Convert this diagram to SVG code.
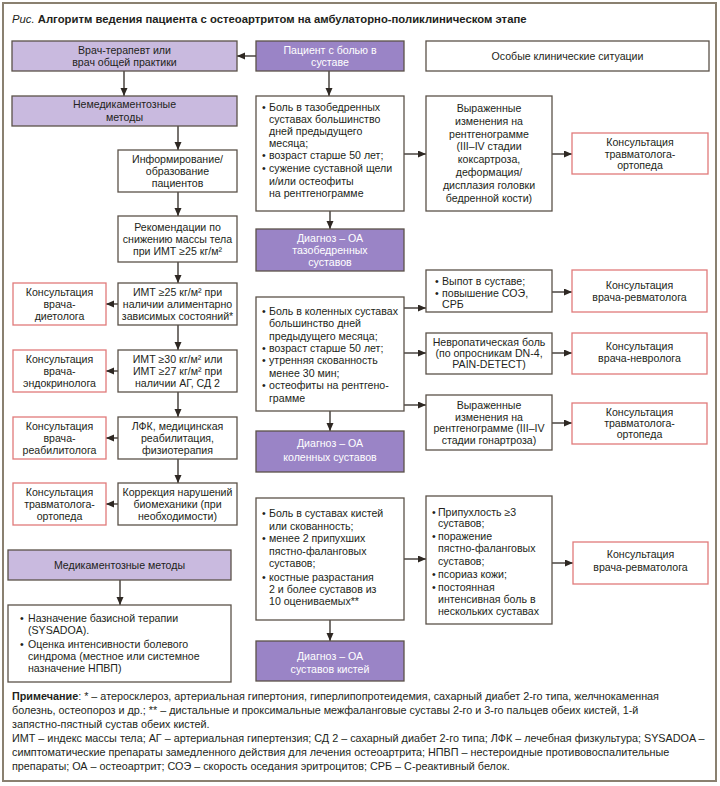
<svg xmlns="http://www.w3.org/2000/svg" width="720" height="786" viewBox="0 0 720 786">
<defs>
<marker id="ah" markerUnits="userSpaceOnUse" markerWidth="9" markerHeight="8" refX="8" refY="3.5" orient="auto"><path d="M0,0 L8,3.5 L0,7 z" fill="#2e2823"/></marker>
<style>
text{font-family:"Liberation Sans","Noto Sans",Arial,sans-serif;font-size:10.6px;fill:#231f20}
.c{text-anchor:middle}
.w{fill:#ffffff}
.b{fill:#fff;stroke:#5b5249;stroke-width:1.3}
.r{fill:#fff;stroke:#e07a7a;stroke-width:1.3}
.l{fill:#c9badf;stroke:#5b5249;stroke-width:1.3}
.d{fill:#9a84c6;stroke:#5b5249;stroke-width:1.3}
.a{fill:none;stroke:#2e2823;stroke-width:1.3;marker-end:url(#ah)}
.n{font-size:10.8px}
</style>
</defs>
<rect x="0" y="0" width="720" height="786" fill="#fff"/>
<rect x="3" y="3" width="713" height="778" fill="none" stroke="#8a8070" stroke-width="2"/>
<text x="12" y="23" style="font-size:11.3px"><tspan font-style="italic">Рис.</tspan> <tspan font-weight="bold">Алгоритм ведения пациента с остеоартритом на амбулаторно-поликлиническом этапе</tspan></text>

<g id="connectors">
<path class="a" d="M256,56 H237"/>
<path class="a" d="M124,71 V96"/>
<path class="a" d="M329,71 V96"/>
<path class="a" d="M178,126 V150"/>
<path class="a" d="M178,192 V216"/>
<path class="a" d="M178,262 V283"/>
<path class="a" d="M178,325 V350"/>
<path class="a" d="M178,392 V417"/>
<path class="a" d="M178,459 V483"/>
<path class="a" d="M118,304 H106"/>
<path class="a" d="M118,371 H106"/>
<path class="a" d="M118,438 H106"/>
<path class="a" d="M118,504 H106"/>
<path class="a" d="M404,154 H426"/>
<path class="a" d="M552,154 H572"/>
<path class="a" d="M330,211 V229"/>
<path class="a" d="M404,308 H426"/>
<path class="a" d="M404,353 H426"/>
<path class="a" d="M404,405 H426"/>
<path class="a" d="M552,292 H572"/>
<path class="a" d="M552,353 H572"/>
<path class="a" d="M552,423 H572"/>
<path class="a" d="M330,411 V431"/>
<path class="a" d="M404,559 H426"/>
<path class="a" d="M552,563 H573"/>
<path class="a" d="M330,620 V641"/>
<path class="a" d="M120,580 V605"/>
</g>

<g id="doctor"><rect class="l" x="12" y="41" width="225" height="30"/>
<text class="c" x="124.5" y="54">Врач-терапевт или</text><text class="c" x="124.5" y="66">врач общей практики</text></g>
<g id="patient"><rect class="d" x="256" y="41" width="148" height="30"/>
<text class="c w" x="330" y="54">Пациент с болью в</text><text class="c w" x="330" y="66">суставе</text></g>
<g id="special"><rect class="b" x="426" y="41" width="283" height="30"/>
<text class="c" x="567.5" y="60">Особые клинические ситуации</text></g>
<g id="nondrug"><rect class="l" x="12" y="96" width="225" height="30"/>
<text class="c" x="124.5" y="108">Немедикаментозные</text><text class="c" x="124.5" y="121">методы</text></g>

<g id="info"><rect class="b" x="118" y="150" width="119" height="42"/>
<text class="c" x="177.5" y="163">Информирование/</text><text class="c" x="177.5" y="175">образование</text><text class="c" x="177.5" y="187">пациентов</text></g>
<g id="weight"><rect class="b" x="118" y="216" width="119" height="46"/>
<text class="c" x="177.5" y="231">Рекомендации по</text><text class="c" x="177.5" y="243">снижению массы тела</text><text class="c" x="177.5" y="255">при ИМТ ≥25 кг/м²</text></g>
<g id="imt25"><rect class="b" x="118" y="283" width="119" height="42"/>
<text class="c" x="177.5" y="296">ИМТ ≥25 кг/м² при</text><text class="c" x="177.5" y="308">наличии алиментарно</text><text class="c" x="177.5" y="320">зависимых состояний*</text></g>
<g id="imt30"><rect class="b" x="118" y="350" width="119" height="42"/>
<text class="c" x="177.5" y="363">ИМТ ≥30 кг/м² или</text><text class="c" x="177.5" y="375">ИМТ ≥27 кг/м² при</text><text class="c" x="177.5" y="387">наличии АГ, СД 2</text></g>
<g id="lfk"><rect class="b" x="118" y="417" width="119" height="42"/>
<text class="c" x="177.5" y="430">ЛФК, медицинская</text><text class="c" x="177.5" y="442">реабилитация,</text><text class="c" x="177.5" y="454">физиотерапия</text></g>
<g id="biomech"><rect class="b" x="118" y="483" width="119" height="42"/>
<text class="c" x="177.5" y="496">Коррекция нарушений</text><text class="c" x="177.5" y="508">биомеханики (при</text><text class="c" x="177.5" y="520">необходимости)</text></g>

<g id="dietolog"><rect class="r" x="13" y="283" width="93" height="42"/>
<text class="c" x="59.5" y="296">Консультация</text><text class="c" x="59.5" y="308">врача-</text><text class="c" x="59.5" y="320">диетолога</text></g>
<g id="endokrinolog"><rect class="r" x="13" y="350" width="93" height="42"/>
<text class="c" x="59.5" y="363">Консультация</text><text class="c" x="59.5" y="375">врача-</text><text class="c" x="59.5" y="387">эндокринолога</text></g>
<g id="reabilitolog"><rect class="r" x="13" y="417" width="93" height="42"/>
<text class="c" x="59.5" y="430">Консультация</text><text class="c" x="59.5" y="442">врача-</text><text class="c" x="59.5" y="454">реабилитолога</text></g>
<g id="travm-left"><rect class="r" x="13" y="483" width="93" height="42"/>
<text class="c" x="59.5" y="496">Консультация</text><text class="c" x="59.5" y="508">травматолога-</text><text class="c" x="59.5" y="520">ортопеда</text></g>

<g id="drug"><rect class="l" x="8" y="550" width="223" height="30"/>
<text class="c" x="119.5" y="569">Медикаментозные методы</text></g>
<g id="drug-list"><rect class="b" x="8" y="605" width="223" height="77"/>
<text x="20" y="622">•</text><text x="28" y="622">Назначение базисной терапии</text>
<text x="28" y="634">(SYSADOA).</text>
<text x="20" y="648">•</text><text x="28" y="648">Оценка интенсивности болевого</text>
<text x="28" y="660">синдрома (местное или системное</text>
<text x="28" y="672">назначение НПВП)</text></g>

<g id="hip"><rect class="b" x="256" y="96" width="148" height="115"/>
<text x="262" y="111">•</text><text x="269" y="111">Боль в тазобедренных</text>
<text x="269" y="123">суставах большинство</text>
<text x="269" y="135">дней предыдущего</text>
<text x="269" y="147">месяца;</text>
<text x="262" y="159">•</text><text x="269" y="159">возраст старше 50 лет;</text>
<text x="262" y="172">•</text><text x="269" y="172">сужение суставной щели</text>
<text x="269" y="185">и/или остеофиты</text>
<text x="269" y="197">на рентгенограмме</text></g>
<g id="hip-xray"><rect class="b" x="426" y="96" width="126" height="115"/>
<text class="c" x="489" y="112">Выраженные</text><text class="c" x="489" y="125">изменения на</text><text class="c" x="489" y="138">рентгенограмме</text><text class="c" x="489" y="150">(III–IV стадии</text><text class="c" x="489" y="163">коксартроза,</text><text class="c" x="489" y="176">деформация/</text><text class="c" x="489" y="189">дисплазия головки</text><text class="c" x="489" y="202">бедренной кости)</text></g>
<g id="hip-travm"><rect class="r" x="572" y="133" width="136" height="41"/>
<text class="c" x="640" y="146">Консультация</text><text class="c" x="640" y="158">травматолога-</text><text class="c" x="640" y="169">ортопеда</text></g>
<g id="hip-diag"><rect class="d" x="256" y="229" width="148" height="42"/>
<text class="c w" x="330" y="242">Диагноз – ОА</text><text class="c w" x="330" y="254">тазобедренных</text><text class="c w" x="330" y="266">суставов</text></g>

<g id="knee"><rect class="b" x="256" y="297" width="148" height="114"/>
<text x="262" y="315">•</text><text x="269" y="315">Боль в коленных суставах</text>
<text x="269" y="327">большинство дней</text>
<text x="269" y="340">предыдущего месяца;</text>
<text x="262" y="352">•</text><text x="269" y="352">возраст старше 50 лет;</text>
<text x="262" y="364">•</text><text x="269" y="364">утренняя скованность</text>
<text x="269" y="377">менее 30 мин;</text>
<text x="262" y="389">•</text><text x="269" y="389">остеофиты на рентгено-</text>
<text x="269" y="402">грамме</text></g>
<g id="knee-effusion"><rect class="b" x="426" y="270" width="126" height="42"/>
<text x="435" y="285">•</text><text x="442" y="285">Выпот в суставе;</text>
<text x="435" y="297">•</text><text x="442" y="297">повышение СОЭ,</text>
<text x="442" y="308">СРБ</text></g>
<g id="knee-neuro"><rect class="b" x="426" y="333" width="126" height="41"/>
<text class="c" x="489" y="346">Невропатическая боль</text><text class="c" x="489" y="357">(по опросникам DN-4,</text><text class="c" x="489" y="368">PAIN-DETECT)</text></g>
<g id="knee-xray"><rect class="b" x="426" y="395" width="126" height="55"/>
<text class="c" x="489" y="409">Выраженные</text><text class="c" x="489" y="421">изменения на</text><text class="c" x="489" y="432">рентгенограмме (III–IV</text><text class="c" x="489" y="444">стадии гонартроза)</text></g>
<g id="knee-revm"><rect class="r" x="572" y="270" width="135" height="42"/>
<text class="c" x="639.5" y="289">Консультация</text><text class="c" x="639.5" y="301">врача-ревматолога</text></g>
<g id="knee-nevr"><rect class="r" x="572" y="333" width="135" height="41"/>
<text class="c" x="639.5" y="350">Консультация</text><text class="c" x="639.5" y="362">врача-невролога</text></g>
<g id="knee-travm"><rect class="r" x="572" y="403" width="135" height="41"/>
<text class="c" x="639.5" y="416">Консультация</text><text class="c" x="639.5" y="427">травматолога-</text><text class="c" x="639.5" y="438">ортопеда</text></g>
<g id="knee-diag"><rect class="d" x="256" y="431" width="148" height="41"/>
<text class="c w" x="330" y="447">Диагноз – ОА</text><text class="c w" x="330" y="461">коленных суставов</text></g>

<g id="hand"><rect class="b" x="256" y="498" width="148" height="122"/>
<text x="262" y="517">•</text><text x="269" y="517">Боль в суставах кистей</text>
<text x="269" y="530">или скованность;</text>
<text x="262" y="542">•</text><text x="269" y="542">менее 2 припухших</text>
<text x="269" y="555">пястно-фаланговых</text>
<text x="269" y="567">суставов;</text>
<text x="262" y="581">•</text><text x="269" y="581">костные разрастания</text>
<text x="269" y="593">2 и более суставов из</text>
<text x="269" y="605">10 оцениваемых**</text></g>
<g id="hand-signs"><rect class="b" x="426" y="496" width="126" height="128"/>
<text x="432" y="516">•</text><text x="438" y="516">Припухлость ≥3</text>
<text x="438" y="527">суставов;</text>
<text x="432" y="540">•</text><text x="438" y="540">поражение</text>
<text x="438" y="552">пястно-фаланговых</text>
<text x="438" y="565">суставов;</text>
<text x="432" y="578">•</text><text x="438" y="578">псориаз кожи;</text>
<text x="432" y="591">•</text><text x="438" y="591">постоянная</text>
<text x="438" y="603">интенсивная боль в</text>
<text x="438" y="615">нескольких суставах</text></g>
<g id="hand-revm"><rect class="r" x="573" y="542" width="135" height="42"/>
<text class="c" x="640.5" y="558">Консультация</text><text class="c" x="640.5" y="571">врача-ревматолога</text></g>
<g id="hand-diag"><rect class="d" x="256" y="641" width="148" height="40"/>
<text class="c w" x="330" y="660">Диагноз – ОА</text><text class="c w" x="330" y="673">суставов кистей</text></g>

<g id="note">
<text class="n" x="12" y="700"><tspan font-weight="bold">Примечание</tspan>: * – атеросклероз, артериальная гипертония, гиперлипопротеидемия, сахарный диабет 2-го типа, желчнокаменная</text>
<text class="n" x="12" y="714">болезнь, остеопороз и др.; ** – дистальные и проксимальные межфаланговые суставы 2-го и 3-го пальцев обеих кистей, 1-й</text>
<text class="n" x="12" y="728">запястно-пястный сустав обеих кистей.</text>
<text class="n" x="12" y="742">ИМТ – индекс массы тела; АГ – артериальная гипертензия; СД 2 – сахарный диабет 2-го типа; ЛФК – лечебная физкультура; SYSADOA –</text>
<text class="n" x="12" y="756">симптоматические препараты замедленного действия для лечения остеоартрита; НПВП – нестероидные противовоспалительные</text>
<text class="n" x="12" y="770">препараты; ОА – остеоартрит; СОЭ – скорость оседания эритроцитов; СРБ – С-реактивный белок.</text>
</g>
</svg>
